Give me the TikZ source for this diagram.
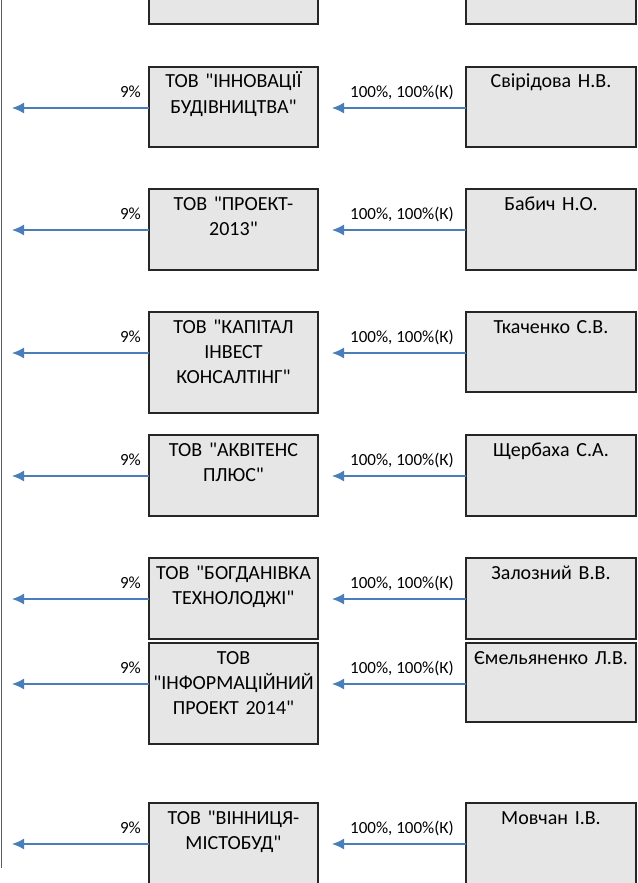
\documentclass[tikz,border=0pt]{standalone}
\usepackage{fontspec}
\setmainfont{Carlito}[Ligatures=TeXOff]
\usetikzlibrary{arrows.meta}
\definecolor{arrblue}{HTML}{4A7EBB}
\definecolor{boxfill}{HTML}{E6E6E6}
\definecolor{boxline}{HTML}{262626}
\tikzset{
  lbox/.style={draw=boxline, fill=boxfill, line width=1.3pt, inner sep=0pt, outer sep=0pt, minimum width=169pt, anchor=north west},
  rbox/.style={draw=boxline, fill=boxfill, line width=1.3pt, inner sep=0pt, outer sep=0pt, minimum width=170pt, anchor=north west},
  btxt/.style={inner sep=0pt, text width=166pt, align=center, anchor=base, font=\fontsize{20}{25}\selectfont},
  lbl/.style={inner sep=0pt, font=\fontsize{17}{20}\selectfont},
  arr/.style={draw=arrblue, line width=1.5pt, -{Latex[length=12pt,width=11pt]}},
  vline/.style={draw=black!65, line width=1pt}
}
\begin{document}
\begin{tikzpicture}[x=1pt,y=-1pt]
\useasboundingbox (0,0) rectangle (637,883);
\clip (0,0) rectangle (637,883);
\fill[white] (0,0) rectangle (637,883);
% left vertical line
\coordinate (vtop) at (1,0);
\coordinate (vbot) at (1,868);
\draw[vline] (vtop) -- (vbot);
% top partial boxes
\node[lbox, minimum height=60pt] (l0) at (149,-36) {};
\node[rbox, minimum height=60pt] (r0) at (466,-36) {};
% rows
\node[lbox, minimum height=80pt] (l1) at (149,67) {};
\node[rbox, minimum height=80pt] (r1) at (466,67) {};
\node[lbox, minimum height=81pt] (l2) at (149,189) {};
\node[rbox, minimum height=81pt] (r2) at (466,189) {};
\node[lbox, minimum height=101pt] (l3) at (149,312) {};
\node[rbox, minimum height=80pt] (r3) at (466,312) {};
\node[lbox, minimum height=81pt] (l4) at (149,435) {};
\node[rbox, minimum height=81pt] (r4) at (466,435) {};
\node[lbox, minimum height=81pt] (l5) at (149,558) {};
\node[rbox, minimum height=81pt] (r5) at (466,558) {};
\node[lbox, minimum height=101pt] (l6) at (149,643) {};
\node[rbox, minimum height=79pt] (r6) at (466,643) {};
\node[lbox, minimum height=101pt] (l7) at (149,803) {};
\node[rbox, minimum height=101pt] (r7) at (466,803) {};
% box texts
\node[btxt] (lt1) at ([yshift=-21pt]l1.north) {ТОВ "ІННОВАЦІЇ\\БУДІВНИЦТВА"};
\node[btxt] (rt1) at ([yshift=-21pt]r1.north) {Свірідова Н.В.};
\node[btxt] (lt2) at ([yshift=-21pt]l2.north) {ТОВ "ПРОЕКТ-\\2013"};
\node[btxt] (rt2) at ([yshift=-21pt]r2.north) {Бабич Н.О.};
\node[btxt] (lt3) at ([yshift=-21pt]l3.north) {ТОВ "КАПІТАЛ\\ІНВЕСТ\\КОНСАЛТІНГ"};
\node[btxt] (rt3) at ([yshift=-21pt]r3.north) {Ткаченко С.В.};
\node[btxt] (lt4) at ([yshift=-21pt]l4.north) {ТОВ "АКВІТЕНС\\ПЛЮС"};
\node[btxt] (rt4) at ([yshift=-21pt]r4.north) {Щербаха С.А.};
\node[btxt] (lt5) at ([yshift=-21pt]l5.north) {ТОВ "БОГДАНІВКА\\ТЕХНОЛОДЖІ"};
\node[btxt] (rt5) at ([yshift=-21pt]r5.north) {Залозний В.В.};
\node[btxt] (lt6) at ([yshift=-21pt]l6.north) {ТОВ\\"ІНФОРМАЦІЙНИЙ\\ПРОЕКТ 2014"};
\node[btxt] (rt6) at ([yshift=-21pt]r6.north) {Ємельяненко Л.В.};
\node[btxt] (lt7) at ([yshift=-21pt]l7.north) {ТОВ "ВІННИЦЯ-\\МІСТОБУД"};
\node[btxt] (rt7) at ([yshift=-21pt]r7.north) {Мовчан І.В.};
% connectors and labels
\foreach \i in {1,...,7} {
  \coordinate (a\i) at ([yshift=-41pt]l\i.north west);
  \coordinate (b\i) at (r\i.west |- a\i);
  \coordinate (m\i) at (l\i.east |- a\i);
  \coordinate (e\i) at (a\i -| 12,0);
  \draw[arr] (a\i) -- (e\i);
  \draw[arr] (b\i) -- ([xshift=14pt]m\i);
  \node[lbl, anchor=base east] (p\i) at ([xshift=-8pt,yshift=11pt]a\i) {9\%};
  \node[lbl, anchor=base] (q\i) at ([xshift=-64pt,yshift=11pt]b\i) {100\%, 100\%(К)};
}
\end{tikzpicture}
\end{document}
